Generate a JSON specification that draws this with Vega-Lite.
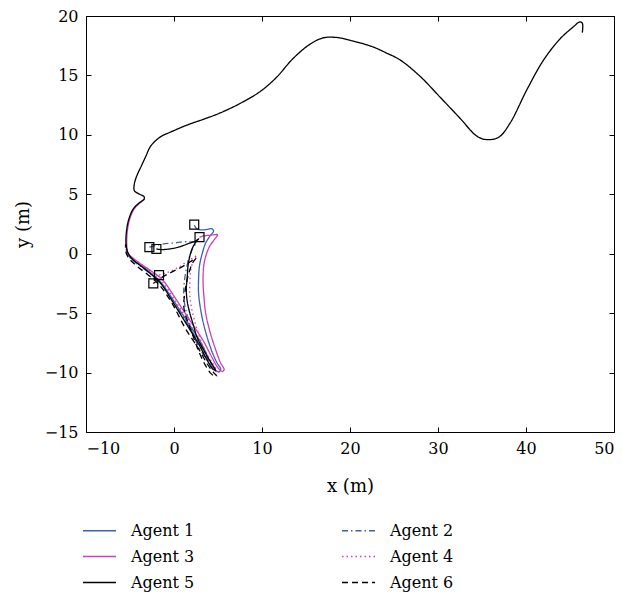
{
  "$schema": "https://vega.github.io/schema/vega-lite/v6.json",
  "width": 528,
  "height": 416,
  "autosize": "none",
  "padding": {"left": 86, "top": 16, "right": 8, "bottom": 163},
  "background": "white",
  "config": {
    "view": {"stroke": "black", "strokeWidth": 1},
    "font": "DejaVu Serif",
    "axis": {
      "grid": false,
      "domain": false,
      "labelFont": "DejaVu Serif",
      "labelFontSize": 16,
      "labelColor": "black",
      "tickColor": "black",
      "tickSize": -5,
      "labelPadding": 13,
      "titleFont": "DejaVu Serif",
      "titleFontSize": 18,
      "titleFontWeight": "normal",
      "titleColor": "black"
    },
    "legend": {
      "labelFont": "DejaVu Serif",
      "labelFontSize": 16,
      "labelColor": "black"
    }
  },
  "datasets": {
    "paths": [
      {"agent":"Agent 1","o":1,"x":2.3,"y":2.4},{"agent":"Agent 1","o":2,"x":2.6,"y":2.1},{"agent":"Agent 1","o":3,"x":3.2,"y":2.0},{"agent":"Agent 1","o":4,"x":3.8,"y":2.05},{"agent":"Agent 1","o":5,"x":4.3,"y":2.1},{"agent":"Agent 1","o":6,"x":4.5,"y":1.9},{"agent":"Agent 1","o":7,"x":4.1,"y":1.5},{"agent":"Agent 1","o":8,"x":3.6,"y":0.9},{"agent":"Agent 1","o":9,"x":3.2,"y":0.0},{"agent":"Agent 1","o":10,"x":2.9,"y":-1.0},{"agent":"Agent 1","o":11,"x":2.8,"y":-2.0},{"agent":"Agent 1","o":12,"x":2.8,"y":-3.4},{"agent":"Agent 1","o":13,"x":3.1,"y":-5.0},{"agent":"Agent 1","o":14,"x":3.6,"y":-6.6},{"agent":"Agent 1","o":15,"x":4.3,"y":-8.2},{"agent":"Agent 1","o":16,"x":4.9,"y":-9.2},{"agent":"Agent 1","o":17,"x":5.3,"y":-9.7},{"agent":"Agent 1","o":18,"x":5.1,"y":-9.95},{"agent":"Agent 1","o":19,"x":4.6,"y":-9.7},{"agent":"Agent 1","o":20,"x":4.0,"y":-8.9},{"agent":"Agent 1","o":21,"x":3.0,"y":-7.4},{"agent":"Agent 1","o":22,"x":1.5,"y":-5.7},{"agent":"Agent 1","o":23,"x":0.0,"y":-4.0},{"agent":"Agent 1","o":24,"x":-1.5,"y":-2.4},{"agent":"Agent 1","o":25,"x":-2.5,"y":-1.7},{"agent":"Agent 1","o":26,"x":-3.5,"y":-1.1},{"agent":"Agent 1","o":27,"x":-4.5,"y":-0.6},{"agent":"Agent 1","o":28,"x":-5.1,"y":-0.2},{"agent":"Agent 1","o":29,"x":-5.4,"y":0.3},

      {"agent":"Agent 2","o":1,"x":-2.8,"y":0.55},{"agent":"Agent 2","o":2,"x":-2.0,"y":0.7},{"agent":"Agent 2","o":3,"x":-1.0,"y":0.85},{"agent":"Agent 2","o":4,"x":0.0,"y":0.9},{"agent":"Agent 2","o":5,"x":1.0,"y":1.0},{"agent":"Agent 2","o":6,"x":1.8,"y":1.0},{"agent":"Agent 2","o":7,"x":2.5,"y":0.95},{"agent":"Agent 2","o":8,"x":2.1,"y":0.4},{"agent":"Agent 2","o":9,"x":1.7,"y":-0.4},{"agent":"Agent 2","o":10,"x":1.4,"y":-1.3},{"agent":"Agent 2","o":11,"x":1.2,"y":-2.2},{"agent":"Agent 2","o":12,"x":1.1,"y":-3.2},{"agent":"Agent 2","o":13,"x":1.2,"y":-4.2},{"agent":"Agent 2","o":14,"x":1.5,"y":-5.2},{"agent":"Agent 2","o":15,"x":1.9,"y":-6.2},{"agent":"Agent 2","o":16,"x":2.4,"y":-7.2},{"agent":"Agent 2","o":17,"x":3.1,"y":-8.2},{"agent":"Agent 2","o":18,"x":3.8,"y":-9.0},{"agent":"Agent 2","o":19,"x":4.5,"y":-9.7},{"agent":"Agent 2","o":20,"x":4.9,"y":-10.0},{"agent":"Agent 2","o":21,"x":4.7,"y":-9.8},{"agent":"Agent 2","o":22,"x":4.0,"y":-9.1},{"agent":"Agent 2","o":23,"x":3.0,"y":-7.7},{"agent":"Agent 2","o":24,"x":1.6,"y":-6.0},{"agent":"Agent 2","o":25,"x":0.1,"y":-4.2},{"agent":"Agent 2","o":26,"x":-1.4,"y":-2.6},{"agent":"Agent 2","o":27,"x":-2.7,"y":-1.7},{"agent":"Agent 2","o":28,"x":-3.9,"y":-1.0},{"agent":"Agent 2","o":29,"x":-4.8,"y":-0.5},{"agent":"Agent 2","o":30,"x":-5.35,"y":0.1},{"agent":"Agent 2","o":31,"x":-5.45,"y":0.8},

      {"agent":"Agent 3","o":1,"x":2.9,"y":1.4},{"agent":"Agent 3","o":2,"x":3.4,"y":1.5},{"agent":"Agent 3","o":3,"x":4.0,"y":1.55},{"agent":"Agent 3","o":4,"x":4.6,"y":1.6},{"agent":"Agent 3","o":5,"x":4.95,"y":1.6},{"agent":"Agent 3","o":6,"x":4.6,"y":1.2},{"agent":"Agent 3","o":7,"x":4.1,"y":0.7},{"agent":"Agent 3","o":8,"x":3.7,"y":0.0},{"agent":"Agent 3","o":9,"x":3.4,"y":-0.9},{"agent":"Agent 3","o":10,"x":3.3,"y":-2.2},{"agent":"Agent 3","o":11,"x":3.4,"y":-3.6},{"agent":"Agent 3","o":12,"x":3.6,"y":-5.0},{"agent":"Agent 3","o":13,"x":4.1,"y":-6.6},{"agent":"Agent 3","o":14,"x":4.7,"y":-8.0},{"agent":"Agent 3","o":15,"x":5.3,"y":-9.2},{"agent":"Agent 3","o":16,"x":5.7,"y":-9.75},{"agent":"Agent 3","o":17,"x":5.5,"y":-9.9},{"agent":"Agent 3","o":18,"x":5.0,"y":-9.6},{"agent":"Agent 3","o":19,"x":4.3,"y":-8.7},{"agent":"Agent 3","o":20,"x":3.3,"y":-7.3},{"agent":"Agent 3","o":21,"x":1.8,"y":-5.6},{"agent":"Agent 3","o":22,"x":0.2,"y":-3.8},{"agent":"Agent 3","o":23,"x":-1.3,"y":-2.2},{"agent":"Agent 3","o":24,"x":-2.5,"y":-1.5},{"agent":"Agent 3","o":25,"x":-3.7,"y":-0.9},{"agent":"Agent 3","o":26,"x":-4.6,"y":-0.4},{"agent":"Agent 3","o":27,"x":-5.2,"y":0.0},{"agent":"Agent 3","o":28,"x":-5.35,"y":0.5},{"agent":"Agent 3","o":29,"x":-5.35,"y":1.5},{"agent":"Agent 3","o":30,"x":-5.2,"y":2.4},{"agent":"Agent 3","o":31,"x":-4.9,"y":3.2},{"agent":"Agent 3","o":32,"x":-4.5,"y":3.8},{"agent":"Agent 3","o":33,"x":-3.9,"y":4.25},{"agent":"Agent 3","o":34,"x":-3.3,"y":4.6},

      {"agent":"Agent 4","o":1,"x":-1.7,"y":-1.8},{"agent":"Agent 4","o":2,"x":-1.0,"y":-1.65},{"agent":"Agent 4","o":3,"x":-0.3,"y":-1.45},{"agent":"Agent 4","o":4,"x":0.5,"y":-1.15},{"agent":"Agent 4","o":5,"x":1.2,"y":-0.8},{"agent":"Agent 4","o":6,"x":1.8,"y":-0.5},{"agent":"Agent 4","o":7,"x":2.3,"y":-0.3},{"agent":"Agent 4","o":8,"x":2.6,"y":-0.1},{"agent":"Agent 4","o":9,"x":2.2,"y":-0.6},{"agent":"Agent 4","o":10,"x":1.9,"y":-1.4},{"agent":"Agent 4","o":11,"x":1.8,"y":-2.4},{"agent":"Agent 4","o":12,"x":1.8,"y":-3.5},{"agent":"Agent 4","o":13,"x":2.0,"y":-4.6},{"agent":"Agent 4","o":14,"x":2.4,"y":-5.8},{"agent":"Agent 4","o":15,"x":2.9,"y":-7.0},{"agent":"Agent 4","o":16,"x":3.5,"y":-8.1},{"agent":"Agent 4","o":17,"x":4.2,"y":-9.0},{"agent":"Agent 4","o":18,"x":4.8,"y":-9.7},{"agent":"Agent 4","o":19,"x":5.1,"y":-10.0},{"agent":"Agent 4","o":20,"x":4.8,"y":-9.9},{"agent":"Agent 4","o":21,"x":4.1,"y":-9.1},{"agent":"Agent 4","o":22,"x":3.1,"y":-7.6},{"agent":"Agent 4","o":23,"x":1.7,"y":-5.8},{"agent":"Agent 4","o":24,"x":0.1,"y":-3.9},{"agent":"Agent 4","o":25,"x":-1.4,"y":-2.3},{"agent":"Agent 4","o":26,"x":-2.6,"y":-1.5},{"agent":"Agent 4","o":27,"x":-3.8,"y":-0.85},{"agent":"Agent 4","o":28,"x":-4.7,"y":-0.4},{"agent":"Agent 4","o":29,"x":-5.25,"y":0.1},{"agent":"Agent 4","o":30,"x":-5.4,"y":0.8},

      {"agent":"Agent 5","o":1,"x":-2.0,"y":0.4},{"agent":"Agent 5","o":2,"x":-1.5,"y":0.35},{"agent":"Agent 5","o":3,"x":-0.5,"y":0.4},{"agent":"Agent 5","o":4,"x":0.5,"y":0.55},{"agent":"Agent 5","o":5,"x":1.1,"y":0.7},{"agent":"Agent 5","o":6,"x":1.8,"y":0.9},{"agent":"Agent 5","o":7,"x":2.4,"y":1.05},{"agent":"Agent 5","o":8,"x":2.8,"y":1.25},{"agent":"Agent 5","o":9,"x":2.5,"y":1.0},{"agent":"Agent 5","o":10,"x":2.1,"y":0.5},{"agent":"Agent 5","o":11,"x":1.8,"y":-0.2},{"agent":"Agent 5","o":12,"x":1.6,"y":-1.0},{"agent":"Agent 5","o":13,"x":1.5,"y":-2.0},{"agent":"Agent 5","o":14,"x":1.4,"y":-3.0},{"agent":"Agent 5","o":15,"x":1.5,"y":-4.0},{"agent":"Agent 5","o":16,"x":1.8,"y":-5.0},{"agent":"Agent 5","o":17,"x":2.2,"y":-6.0},{"agent":"Agent 5","o":18,"x":2.6,"y":-7.0},{"agent":"Agent 5","o":19,"x":3.3,"y":-8.0},{"agent":"Agent 5","o":20,"x":3.9,"y":-8.8},{"agent":"Agent 5","o":21,"x":4.5,"y":-9.5},{"agent":"Agent 5","o":22,"x":4.7,"y":-9.8},{"agent":"Agent 5","o":23,"x":4.4,"y":-9.7},{"agent":"Agent 5","o":24,"x":3.8,"y":-9.0},{"agent":"Agent 5","o":25,"x":2.8,"y":-7.6},{"agent":"Agent 5","o":26,"x":1.4,"y":-5.9},{"agent":"Agent 5","o":27,"x":-0.1,"y":-4.1},{"agent":"Agent 5","o":28,"x":-1.5,"y":-2.5},{"agent":"Agent 5","o":29,"x":-2.8,"y":-1.6},{"agent":"Agent 5","o":30,"x":-4.0,"y":-0.9},{"agent":"Agent 5","o":31,"x":-4.8,"y":-0.4},{"agent":"Agent 5","o":32,"x":-5.3,"y":0.2},{"agent":"Agent 5","o":33,"x":-5.45,"y":0.8},{"agent":"Agent 5","o":34,"x":-5.45,"y":1.5},{"agent":"Agent 5","o":35,"x":-5.3,"y":2.4},{"agent":"Agent 5","o":36,"x":-5.0,"y":3.2},{"agent":"Agent 5","o":37,"x":-4.6,"y":3.8},{"agent":"Agent 5","o":38,"x":-4.0,"y":4.25},{"agent":"Agent 5","o":39,"x":-3.4,"y":4.6},{"agent":"Agent 5","o":40,"x":-3.4,"y":4.8},{"agent":"Agent 5","o":41,"x":-3.9,"y":5.0},{"agent":"Agent 5","o":42,"x":-4.5,"y":5.3},{"agent":"Agent 5","o":43,"x":-4.5,"y":5.9},{"agent":"Agent 5","o":44,"x":-4.2,"y":6.6},{"agent":"Agent 5","o":45,"x":-3.7,"y":7.4},{"agent":"Agent 5","o":46,"x":-3.2,"y":8.2},{"agent":"Agent 5","o":47,"x":-2.7,"y":9.0},{"agent":"Agent 5","o":48,"x":-2.1,"y":9.5},{"agent":"Agent 5","o":49,"x":-1.4,"y":9.9},{"agent":"Agent 5","o":50,"x":-0.5,"y":10.2},{"agent":"Agent 5","o":51,"x":1.4,"y":10.8},{"agent":"Agent 5","o":52,"x":3.3,"y":11.3},{"agent":"Agent 5","o":53,"x":5.1,"y":11.8},{"agent":"Agent 5","o":54,"x":7.4,"y":12.6},{"agent":"Agent 5","o":55,"x":9.7,"y":13.6},{"agent":"Agent 5","o":56,"x":11.6,"y":14.8},{"agent":"Agent 5","o":57,"x":13.5,"y":16.4},{"agent":"Agent 5","o":58,"x":15.4,"y":17.6},{"agent":"Agent 5","o":59,"x":16.9,"y":18.15},{"agent":"Agent 5","o":60,"x":18.4,"y":18.2},{"agent":"Agent 5","o":61,"x":20.3,"y":17.9},{"agent":"Agent 5","o":62,"x":22.6,"y":17.4},{"agent":"Agent 5","o":63,"x":24.1,"y":16.9},{"agent":"Agent 5","o":64,"x":25.7,"y":16.3},{"agent":"Agent 5","o":65,"x":28.0,"y":14.9},{"agent":"Agent 5","o":66,"x":30.2,"y":13.2},{"agent":"Agent 5","o":67,"x":32.5,"y":11.4},{"agent":"Agent 5","o":68,"x":34.4,"y":9.9},{"agent":"Agent 5","o":69,"x":35.5,"y":9.6},{"agent":"Agent 5","o":70,"x":36.9,"y":9.8},{"agent":"Agent 5","o":71,"x":38.2,"y":11.0},{"agent":"Agent 5","o":72,"x":40.1,"y":13.8},{"agent":"Agent 5","o":73,"x":42.0,"y":16.3},{"agent":"Agent 5","o":74,"x":43.9,"y":18.1},{"agent":"Agent 5","o":75,"x":45.4,"y":19.1},{"agent":"Agent 5","o":76,"x":46.1,"y":19.5},{"agent":"Agent 5","o":77,"x":46.4,"y":19.4},{"agent":"Agent 5","o":78,"x":46.4,"y":18.6},

      {"agent":"Agent 6","o":1,"x":-2.35,"y":-2.5},{"agent":"Agent 6","o":2,"x":-1.6,"y":-2.1},{"agent":"Agent 6","o":3,"x":-0.8,"y":-1.75},{"agent":"Agent 6","o":4,"x":0.0,"y":-1.45},{"agent":"Agent 6","o":5,"x":0.8,"y":-1.15},{"agent":"Agent 6","o":6,"x":1.5,"y":-0.85},{"agent":"Agent 6","o":7,"x":2.0,"y":-0.6},{"agent":"Agent 6","o":8,"x":2.5,"y":-0.35},{"agent":"Agent 6","o":9,"x":2.1,"y":-0.8},{"agent":"Agent 6","o":10,"x":1.7,"y":-1.6},{"agent":"Agent 6","o":11,"x":1.4,"y":-2.5},{"agent":"Agent 6","o":12,"x":1.2,"y":-3.5},{"agent":"Agent 6","o":13,"x":1.1,"y":-4.4},{"agent":"Agent 6","o":14,"x":1.4,"y":-5.4},{"agent":"Agent 6","o":15,"x":1.8,"y":-6.2},{"agent":"Agent 6","o":16,"x":2.3,"y":-7.2},{"agent":"Agent 6","o":17,"x":2.8,"y":-8.2},{"agent":"Agent 6","o":18,"x":3.5,"y":-9.3},{"agent":"Agent 6","o":19,"x":4.1,"y":-10.0},{"agent":"Agent 6","o":20,"x":4.6,"y":-10.3},{"agent":"Agent 6","o":21,"x":4.85,"y":-10.3},{"agent":"Agent 6","o":22,"x":4.5,"y":-10.0},{"agent":"Agent 6","o":23,"x":3.8,"y":-9.3},{"agent":"Agent 6","o":24,"x":2.8,"y":-8.0},{"agent":"Agent 6","o":25,"x":1.3,"y":-6.3},{"agent":"Agent 6","o":26,"x":-0.2,"y":-4.2},{"agent":"Agent 6","o":27,"x":-1.7,"y":-2.6},{"agent":"Agent 6","o":28,"x":-3.0,"y":-1.75},{"agent":"Agent 6","o":29,"x":-4.2,"y":-1.05},{"agent":"Agent 6","o":30,"x":-5.0,"y":-0.5},{"agent":"Agent 6","o":31,"x":-5.45,"y":0.1},{"agent":"Agent 6","o":32,"x":-5.5,"y":0.8}
    ],
    "starts": [
      {"agent":"Agent 1","x":2.3,"y":2.45},
      {"agent":"Agent 2","x":-2.8,"y":0.55},
      {"agent":"Agent 3","x":2.9,"y":1.4},
      {"agent":"Agent 4","x":-1.7,"y":-1.8},
      {"agent":"Agent 5","x":-2.0,"y":0.4},
      {"agent":"Agent 6","x":-2.35,"y":-2.5}
    ]
  },
  "layer": [
    {
      "data": {"name": "paths"},
      "mark": {"type": "line", "strokeWidth": 1.3, "clip": true, "interpolate": "catmull-rom"},
      "encoding": {
        "x": {"field": "x", "type": "quantitative",
              "scale": {"domain": [-10, 50], "nice": false, "zero": false},
              "axis": {"values": [-10, 0, 10, 20, 30, 40, 50], "title": "x (m)", "titlePadding": 21}},
        "y": {"field": "y", "type": "quantitative",
              "scale": {"domain": [-15, 20], "nice": false, "zero": false},
              "axis": {"values": [-15, -10, -5, 0, 5, 10, 15, 20], "title": "y (m)", "titlePadding": 12}},
        "order": {"field": "o", "type": "quantitative"},
        "color": {"field": "agent", "type": "nominal",
                  "scale": {"domain": ["Agent 1","Agent 2","Agent 3","Agent 4","Agent 5","Agent 6"],
                            "range": ["#3f5fb5","#3f5fb5","#cc3fb5","#cc3fb5","#000000","#000000"]},
                  "legend": {"title": null, "orient": "none", "legendX": -4, "legendY": 497, "columns": 2,
                             "direction": "horizontal",
                             "symbolType": "stroke", "symbolSize": 1089, "symbolStrokeWidth": 1.3,
                             "labelOffset": 14, "columnPadding": 144, "rowPadding": -2, "labelFontSize": 16}},
        "strokeDash": {"field": "agent", "type": "nominal",
                       "scale": {"domain": ["Agent 1","Agent 2","Agent 3","Agent 4","Agent 5","Agent 6"],
                                 "range": [[1,0],[6,3,1.5,3],[1,0],[1.5,3],[1,0],[6,4]]},
                       "legend": {"title": null, "orient": "none", "legendX": -4, "legendY": 497, "columns": 2,
                                  "direction": "horizontal",
                                  "symbolType": "stroke", "symbolSize": 1089, "symbolStrokeWidth": 1.3,
                                  "labelOffset": 14, "columnPadding": 144, "rowPadding": -2, "labelFontSize": 16}}
      }
    },
    {
      "data": {"name": "starts"},
      "mark": {"type": "point", "shape": "square", "filled": false, "color": "black", "size": 80, "strokeWidth": 1.2, "opacity": 1},
      "encoding": {
        "x": {"field": "x", "type": "quantitative",
              "axis": {"orient": "top", "values": [-10, 0, 10, 20, 30, 40, 50], "labels": false, "title": null}},
        "y": {"field": "y", "type": "quantitative",
              "axis": {"orient": "right", "values": [-15, -10, -5, 0, 5, 10, 15, 20], "labels": false, "title": null}}
      }
    }
  ],
  "resolve": {"axis": {"x": "independent", "y": "independent"}}
}
